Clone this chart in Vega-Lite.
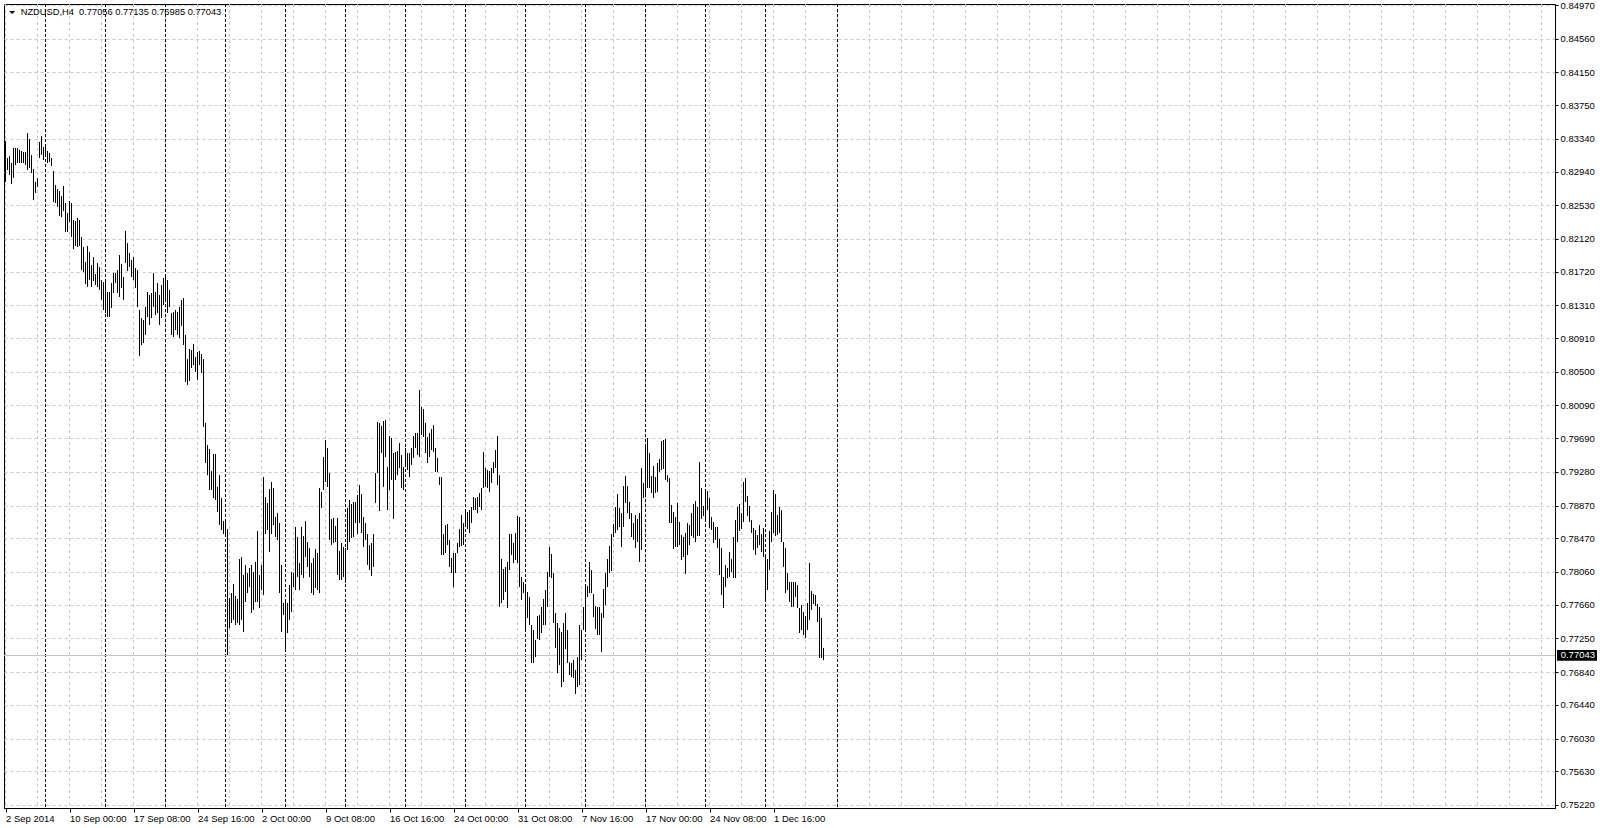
{
"$schema": "https://vega.github.io/schema/vega-lite/v6.json",
"width": 1551, "height": 804,
"autosize": {"type": "none"},
"padding": {"left": 4, "top": 4, "right": 45, "bottom": 20},
"background": "white",
"config": {"view": {"stroke": "black", "strokeWidth": 1}, "font": "Liberation Sans", "axis": {"labelOverlap": false}},
"datasets": {
"grid": [{"i":0},{"i":16},{"i":32},{"i":48},{"i":64},{"i":80},{"i":96},{"i":112},{"i":128},{"i":144},{"i":160},{"i":176},{"i":192},{"i":208},{"i":224},{"i":240},{"i":256},{"i":272},{"i":288},{"i":304},{"i":320},{"i":336},{"i":352},{"i":368},{"i":384},{"i":400},{"i":416},{"i":432},{"i":448},{"i":464},{"i":480},{"i":496},{"i":512},{"i":528},{"i":544},{"i":560},{"i":576},{"i":592},{"i":608},{"i":624},{"i":640},{"i":656},{"i":672},{"i":688},{"i":704},{"i":720},{"i":736},{"i":752},{"i":768}],
"sep": [{"i":20},{"i":50},{"i":80},{"i":110},{"i":140},{"i":170},{"i":200},{"i":230},{"i":260},{"i":290},{"i":320},{"i":350},{"i":380},{"i":416}],
"last": [{"price":0.77043,"label":"0.77043","title":"NZDUSD,H4\u00a0 0.77056 0.77135 0.76985 0.77043"}],
"bars": [
{"i":0,"h":0.83312,"l":0.82813},{"i":1,"h":0.83105,"l":0.82959},{"i":2,"h":0.8313,"l":0.82898},{"i":3,"h":0.83044,"l":0.82788},{"i":4,"h":0.83227,"l":0.82862},{"i":5,"h":0.83227,"l":0.8302},{"i":6,"h":0.83227,"l":0.83044},{"i":7,"h":0.83203,"l":0.83044},{"i":8,"h":0.83191,"l":0.83044},{"i":9,"h":0.83178,"l":0.83044},
{"i":10,"h":0.83178,"l":0.8302},{"i":11,"h":0.8341,"l":0.82959},{"i":12,"h":0.83337,"l":0.82983},{"i":13,"h":0.83142,"l":0.82922},{"i":14,"h":0.82971,"l":0.82593},{"i":15,"h":0.82813,"l":0.82679},{"i":16,"h":0.82862,"l":0.82752},{"i":17,"h":0.833,"l":0.83105},{"i":18,"h":0.83373,"l":0.83142},{"i":19,"h":0.83239,"l":0.83081},
{"i":20,"h":0.83264,"l":0.8313},{"i":21,"h":0.83191,"l":0.83044},{"i":22,"h":0.83166,"l":0.83057},{"i":23,"h":0.83105,"l":0.83008},{"i":24,"h":0.82947,"l":0.82569},{"i":25,"h":0.82776,"l":0.82557},{"i":26,"h":0.82728,"l":0.82508},{"i":27,"h":0.82703,"l":0.82398},{"i":28,"h":0.82642,"l":0.82386},{"i":29,"h":0.82764,"l":0.82459},
{"i":30,"h":0.82557,"l":0.82203},{"i":31,"h":0.82435,"l":0.82203},{"i":32,"h":0.82581,"l":0.82325},{"i":33,"h":0.82557,"l":0.82142},{"i":34,"h":0.8235,"l":0.81996},{"i":35,"h":0.82337,"l":0.82033},{"i":36,"h":0.82374,"l":0.8202},{"i":37,"h":0.8235,"l":0.82033},{"i":38,"h":0.82142,"l":0.8174},{"i":39,"h":0.8202,"l":0.81716},
{"i":40,"h":0.81838,"l":0.8157},{"i":41,"h":0.82033,"l":0.81533},{"i":42,"h":0.8196,"l":0.81618},{"i":43,"h":0.81801,"l":0.81533},{"i":44,"h":0.81899,"l":0.81606},{"i":45,"h":0.81691,"l":0.81557},{"i":46,"h":0.81825,"l":0.81533},{"i":47,"h":0.81777,"l":0.81497},{"i":48,"h":0.81618,"l":0.81375},{"i":49,"h":0.81594,"l":0.81253},
{"i":50,"h":0.81618,"l":0.81216},{"i":51,"h":0.81472,"l":0.81168},{"i":52,"h":0.81472,"l":0.81168},{"i":53,"h":0.81582,"l":0.81277},{"i":54,"h":0.81704,"l":0.8146},{"i":55,"h":0.81704,"l":0.81582},{"i":56,"h":0.8174,"l":0.8146},{"i":57,"h":0.81923,"l":0.81411},{"i":58,"h":0.81813,"l":0.81521},{"i":59,"h":0.81655,"l":0.81375},
{"i":60,"h":0.82216,"l":0.81825},{"i":61,"h":0.82069,"l":0.81728},{"i":62,"h":0.81948,"l":0.81777},{"i":63,"h":0.81862,"l":0.81655},{"i":64,"h":0.81899,"l":0.81618},{"i":65,"h":0.81764,"l":0.81521},{"i":66,"h":0.8174,"l":0.81289},{"i":67,"h":0.81253,"l":0.80692},{"i":68,"h":0.81155,"l":0.80826},{"i":69,"h":0.81131,"l":0.8085},
{"i":70,"h":0.81289,"l":0.80948},{"i":71,"h":0.81472,"l":0.81168},{"i":72,"h":0.81436,"l":0.8107},{"i":73,"h":0.8146,"l":0.81155},{"i":74,"h":0.81704,"l":0.81289},{"i":75,"h":0.81472,"l":0.81192},{"i":76,"h":0.81582,"l":0.81216},{"i":77,"h":0.81436,"l":0.8107},{"i":78,"h":0.81557,"l":0.81155},{"i":79,"h":0.81643,"l":0.81314},
{"i":80,"h":0.81655,"l":0.81375},{"i":81,"h":0.81618,"l":0.81216},{"i":82,"h":0.81497,"l":0.81289},{"i":83,"h":0.81216,"l":0.80948},{"i":84,"h":0.81228,"l":0.80924},{"i":85,"h":0.81253,"l":0.81009},{"i":86,"h":0.81228,"l":0.80948},{"i":87,"h":0.81289,"l":0.80912},{"i":88,"h":0.81375,"l":0.81058},{"i":89,"h":0.81399,"l":0.80826},
{"i":90,"h":0.80948,"l":0.80375},{"i":91,"h":0.80655,"l":0.80339},{"i":92,"h":0.80777,"l":0.80387},{"i":93,"h":0.80765,"l":0.80546},{"i":94,"h":0.80838,"l":0.80582},{"i":95,"h":0.8068,"l":0.80497},{"i":96,"h":0.80741,"l":0.804},{"i":97,"h":0.80753,"l":0.80582},{"i":98,"h":0.80716,"l":0.80485},{"i":99,"h":0.80655,"l":0.79827},
{"i":100,"h":0.79875,"l":0.79388},{"i":101,"h":0.79607,"l":0.7924},{"i":102,"h":0.79559,"l":0.79059},{"i":103,"h":0.7929,"l":0.79059},{"i":104,"h":0.79498,"l":0.78961},{"i":105,"h":0.79498,"l":0.78937},{"i":106,"h":0.79096,"l":0.78791},{"i":107,"h":0.7924,"l":0.78632},{"i":108,"h":0.78961,"l":0.78571},{"i":109,"h":0.78681,"l":0.78522},
{"i":110,"h":0.78669,"l":0.78522},{"i":111,"h":0.78583,"l":0.77048},{"i":112,"h":0.77743,"l":0.77377},{"i":113,"h":0.77803,"l":0.77438},{"i":114,"h":0.77913,"l":0.77474},{"i":115,"h":0.77767,"l":0.77413},{"i":116,"h":0.7773,"l":0.77438},{"i":117,"h":0.78218,"l":0.77413},{"i":118,"h":0.78243,"l":0.77474},{"i":119,"h":0.78023,"l":0.77328},
{"i":120,"h":0.78145,"l":0.77694},{"i":121,"h":0.78047,"l":0.77803},{"i":122,"h":0.78108,"l":0.77876},{"i":123,"h":0.78145,"l":0.7756},{"i":124,"h":0.7806,"l":0.77596},{"i":125,"h":0.78182,"l":0.77694},{"i":126,"h":0.78559,"l":0.77694},{"i":127,"h":0.78023,"l":0.77621},{"i":128,"h":0.78145,"l":0.7784},{"i":129,"h":0.79217,"l":0.77779},
{"i":130,"h":0.78973,"l":0.78522},{"i":131,"h":0.789,"l":0.78571},{"i":132,"h":0.79071,"l":0.78303},{"i":133,"h":0.79156,"l":0.78522},{"i":134,"h":0.79083,"l":0.78632},{"i":135,"h":0.7873,"l":0.78486},{"i":136,"h":0.78778,"l":0.7845},{"i":137,"h":0.78657,"l":0.77803},{"i":138,"h":0.78145,"l":0.77328},{"i":139,"h":0.77682,"l":0.77535},
{"i":140,"h":0.77694,"l":0.77109},{"i":141,"h":0.77682,"l":0.77316},{"i":142,"h":0.77901,"l":0.77474},{"i":143,"h":0.7806,"l":0.77572},{"i":144,"h":0.78047,"l":0.77876},{"i":145,"h":0.78608,"l":0.7784},{"i":146,"h":0.78486,"l":0.77999},{"i":147,"h":0.7817,"l":0.7784},{"i":148,"h":0.78608,"l":0.78023},{"i":149,"h":0.78498,"l":0.77986},
{"i":150,"h":0.78681,"l":0.78243},{"i":151,"h":0.78425,"l":0.78121},{"i":152,"h":0.78352,"l":0.77999},{"i":153,"h":0.7817,"l":0.77803},{"i":154,"h":0.7823,"l":0.77779},{"i":155,"h":0.7834,"l":0.77864},{"i":156,"h":0.78291,"l":0.7784},{"i":157,"h":0.79083,"l":0.77803},{"i":158,"h":0.79035,"l":0.7884},{"i":159,"h":0.79461,"l":0.79059},
{"i":160,"h":0.79668,"l":0.79156},{"i":161,"h":0.79571,"l":0.79096},{"i":162,"h":0.79266,"l":0.7845},{"i":163,"h":0.78705,"l":0.78389},{"i":164,"h":0.78718,"l":0.78413},{"i":165,"h":0.7862,"l":0.78425},{"i":166,"h":0.78718,"l":0.78023},{"i":167,"h":0.78315,"l":0.77962},{"i":168,"h":0.78413,"l":0.77962},{"i":169,"h":0.78364,"l":0.77999},
{"i":170,"h":0.78352,"l":0.77925},{"i":171,"h":0.7884,"l":0.78328},{"i":172,"h":0.78937,"l":0.78425},{"i":173,"h":0.78888,"l":0.78474},{"i":174,"h":0.78913,"l":0.78486},{"i":175,"h":0.78913,"l":0.78657},{"i":176,"h":0.78998,"l":0.78522},{"i":177,"h":0.7912,"l":0.78657},{"i":178,"h":0.7901,"l":0.78535},{"i":179,"h":0.7873,"l":0.78364},
{"i":180,"h":0.78657,"l":0.7845},{"i":181,"h":0.78522,"l":0.78145},{"i":182,"h":0.78389,"l":0.78084},{"i":183,"h":0.78413,"l":0.78011},{"i":184,"h":0.78522,"l":0.78121},{"i":185,"h":0.79266,"l":0.789},{"i":186,"h":0.79888,"l":0.79266},{"i":187,"h":0.79875,"l":0.78803},{"i":188,"h":0.79839,"l":0.7951},{"i":189,"h":0.799,"l":0.79096},
{"i":190,"h":0.79912,"l":0.79461},{"i":191,"h":0.79339,"l":0.78815},{"i":192,"h":0.79717,"l":0.79059},{"i":193,"h":0.79693,"l":0.79181},{"i":194,"h":0.7951,"l":0.78705},{"i":195,"h":0.79522,"l":0.79181},{"i":196,"h":0.79534,"l":0.7924},{"i":197,"h":0.79632,"l":0.79327},{"i":198,"h":0.79485,"l":0.79083},{"i":199,"h":0.79339,"l":0.79059},
{"i":200,"h":0.79571,"l":0.79339},{"i":201,"h":0.7951,"l":0.79303},{"i":202,"h":0.7951,"l":0.79217},{"i":203,"h":0.79571,"l":0.79364},{"i":204,"h":0.79717,"l":0.79449},{"i":205,"h":0.79754,"l":0.79571},{"i":206,"h":0.79754,"l":0.79485},{"i":207,"h":0.80278,"l":0.79461},{"i":208,"h":0.8007,"l":0.7973},{"i":209,"h":0.80046,"l":0.79705},
{"i":210,"h":0.79875,"l":0.7951},{"i":211,"h":0.79705,"l":0.79388},{"i":212,"h":0.79754,"l":0.79461},{"i":213,"h":0.79803,"l":0.79546},{"i":214,"h":0.79851,"l":0.79522},{"i":215,"h":0.79571,"l":0.79278},{"i":216,"h":0.79449,"l":0.79278},{"i":217,"h":0.79217,"l":0.7912},{"i":218,"h":0.79217,"l":0.78267},{"i":219,"h":0.78522,"l":0.78267},
{"i":220,"h":0.78632,"l":0.78291},{"i":221,"h":0.78644,"l":0.78389},{"i":222,"h":0.7845,"l":0.78121},{"i":223,"h":0.7823,"l":0.78047},{"i":224,"h":0.78291,"l":0.77876},{"i":225,"h":0.78291,"l":0.78047},{"i":226,"h":0.78413,"l":0.78291},{"i":227,"h":0.78583,"l":0.78364},{"i":228,"h":0.78754,"l":0.78376},{"i":229,"h":0.78657,"l":0.78389},
{"i":230,"h":0.78791,"l":0.78608},{"i":231,"h":0.78791,"l":0.78583},{"i":232,"h":0.78815,"l":0.78535},{"i":233,"h":0.78852,"l":0.78657},{"i":234,"h":0.78973,"l":0.78815},{"i":235,"h":0.78961,"l":0.78815},{"i":236,"h":0.78973,"l":0.78778},{"i":237,"h":0.79022,"l":0.78852},{"i":238,"h":0.79083,"l":0.78815},{"i":239,"h":0.79522,"l":0.79083},
{"i":240,"h":0.79327,"l":0.79096},{"i":241,"h":0.79303,"l":0.79083},{"i":242,"h":0.7929,"l":0.79035},{"i":243,"h":0.79327,"l":0.79144},{"i":244,"h":0.794,"l":0.79266},{"i":245,"h":0.79546,"l":0.79327},{"i":246,"h":0.79717,"l":0.7912},{"i":247,"h":0.7924,"l":0.77633},{"i":248,"h":0.78218,"l":0.77682},{"i":249,"h":0.78096,"l":0.77718},
{"i":250,"h":0.78121,"l":0.77816},{"i":251,"h":0.78182,"l":0.77621},{"i":252,"h":0.78522,"l":0.78084},{"i":253,"h":0.78522,"l":0.78267},{"i":254,"h":0.78413,"l":0.7817},{"i":255,"h":0.78535,"l":0.78206},{"i":256,"h":0.78742,"l":0.7817},{"i":257,"h":0.7873,"l":0.77876},{"i":258,"h":0.77999,"l":0.77718},{"i":259,"h":0.77937,"l":0.77803},
{"i":260,"h":0.77901,"l":0.77353},{"i":261,"h":0.77816,"l":0.77499},{"i":262,"h":0.77755,"l":0.77413},{"i":263,"h":0.77413,"l":0.7695},{"i":264,"h":0.77353,"l":0.7695},{"i":265,"h":0.77231,"l":0.77023},{"i":266,"h":0.77523,"l":0.77243},{"i":267,"h":0.77535,"l":0.77231},{"i":268,"h":0.77633,"l":0.77316},{"i":269,"h":0.7773,"l":0.77413},
{"i":270,"h":0.7784,"l":0.77413},{"i":271,"h":0.7806,"l":0.77633},{"i":272,"h":0.78364,"l":0.77999},{"i":273,"h":0.78279,"l":0.77986},{"i":274,"h":0.78047,"l":0.77438},{"i":275,"h":0.7756,"l":0.77133},{"i":276,"h":0.77438,"l":0.76828},{"i":277,"h":0.77377,"l":0.76926},{"i":278,"h":0.77328,"l":0.76658},{"i":279,"h":0.77438,"l":0.76719},
{"i":280,"h":0.7756,"l":0.77121},{"i":281,"h":0.77353,"l":0.7695},{"i":282,"h":0.76962,"l":0.76804},{"i":283,"h":0.7695,"l":0.7678},{"i":284,"h":0.76987,"l":0.76768},{"i":285,"h":0.76865,"l":0.76573},{"i":286,"h":0.77023,"l":0.76658},{"i":287,"h":0.77413,"l":0.76682},{"i":288,"h":0.77353,"l":0.76987},{"i":289,"h":0.77633,"l":0.77353},
{"i":290,"h":0.77876,"l":0.77328},{"i":291,"h":0.77889,"l":0.77755},{"i":292,"h":0.78182,"l":0.77803},{"i":293,"h":0.78084,"l":0.77803},{"i":294,"h":0.77791,"l":0.77511},{"i":295,"h":0.77645,"l":0.77365},{"i":296,"h":0.77633,"l":0.77292},{"i":297,"h":0.77633,"l":0.77292},{"i":298,"h":0.7756,"l":0.77084},{"i":299,"h":0.77852,"l":0.77499},
{"i":300,"h":0.78047,"l":0.77657},{"i":301,"h":0.78218,"l":0.77876},{"i":302,"h":0.78376,"l":0.78047},{"i":303,"h":0.78522,"l":0.78072},{"i":304,"h":0.78644,"l":0.78486},{"i":305,"h":0.78852,"l":0.78535},{"i":306,"h":0.7901,"l":0.78571},{"i":307,"h":0.7884,"l":0.78608},{"i":308,"h":0.78778,"l":0.78364},{"i":309,"h":0.79108,"l":0.78608},
{"i":310,"h":0.79229,"l":0.789},{"i":311,"h":0.79108,"l":0.78778},{"i":312,"h":0.78913,"l":0.78705},{"i":313,"h":0.78778,"l":0.78486},{"i":314,"h":0.78657,"l":0.7845},{"i":315,"h":0.78754,"l":0.78352},{"i":316,"h":0.78705,"l":0.78425},{"i":317,"h":0.78778,"l":0.78182},{"i":318,"h":0.79327,"l":0.78328},{"i":319,"h":0.79144,"l":0.78961},
{"i":320,"h":0.79583,"l":0.78998},{"i":321,"h":0.79693,"l":0.79083},{"i":322,"h":0.7951,"l":0.79083},{"i":323,"h":0.79229,"l":0.79022},{"i":324,"h":0.79351,"l":0.78961},{"i":325,"h":0.79217,"l":0.79022},{"i":326,"h":0.79388,"l":0.79035},{"i":327,"h":0.79437,"l":0.79278},{"i":328,"h":0.79656,"l":0.79303},{"i":329,"h":0.79668,"l":0.79315},
{"i":330,"h":0.79681,"l":0.79181},{"i":331,"h":0.7924,"l":0.79156},{"i":332,"h":0.79205,"l":0.78657},{"i":333,"h":0.78876,"l":0.78657},{"i":334,"h":0.78791,"l":0.7834},{"i":335,"h":0.7873,"l":0.78364},{"i":336,"h":0.789,"l":0.78364},{"i":337,"h":0.78669,"l":0.78389},{"i":338,"h":0.7851,"l":0.78206},{"i":339,"h":0.78486,"l":0.78243},
{"i":340,"h":0.78535,"l":0.78035},{"i":341,"h":0.78657,"l":0.78267},{"i":342,"h":0.78632,"l":0.78389},{"i":343,"h":0.78778,"l":0.78498},{"i":344,"h":0.78888,"l":0.78474},{"i":345,"h":0.78925,"l":0.78425},{"i":346,"h":0.78852,"l":0.78498},{"i":347,"h":0.794,"l":0.78498},{"i":348,"h":0.79083,"l":0.78705},{"i":349,"h":0.78864,"l":0.78742},
{"i":350,"h":0.79059,"l":0.78693},{"i":351,"h":0.79047,"l":0.78815},{"i":352,"h":0.78961,"l":0.78596},{"i":353,"h":0.7873,"l":0.78571},{"i":354,"h":0.78669,"l":0.78413},{"i":355,"h":0.78608,"l":0.7845},{"i":356,"h":0.78608,"l":0.78352},{"i":357,"h":0.78462,"l":0.78023},{"i":358,"h":0.78352,"l":0.77779},{"i":359,"h":0.77999,"l":0.77621},
{"i":360,"h":0.78145,"l":0.77876},{"i":361,"h":0.78108,"l":0.77986},{"i":362,"h":0.78303,"l":0.77999},{"i":363,"h":0.78218,"l":0.7806},{"i":364,"h":0.78486,"l":0.77986},{"i":365,"h":0.78693,"l":0.77986},{"i":366,"h":0.78852,"l":0.78425},{"i":367,"h":0.78888,"l":0.78559},{"i":368,"h":0.78778,"l":0.78583},{"i":369,"h":0.79156,"l":0.78669},
{"i":370,"h":0.79205,"l":0.78913},{"i":371,"h":0.78986,"l":0.78742},{"i":372,"h":0.78864,"l":0.78669},{"i":373,"h":0.78693,"l":0.78535},{"i":374,"h":0.78596,"l":0.78328},{"i":375,"h":0.78571,"l":0.78267},{"i":376,"h":0.7851,"l":0.78352},{"i":377,"h":0.78632,"l":0.78389},{"i":378,"h":0.78522,"l":0.78303},{"i":379,"h":0.78596,"l":0.78243},
{"i":380,"h":0.78243,"l":0.77718},{"i":381,"h":0.78218,"l":0.7784},{"i":382,"h":0.78559,"l":0.78084},{"i":383,"h":0.78791,"l":0.78425},{"i":384,"h":0.79059,"l":0.78535},{"i":385,"h":0.7901,"l":0.78498},{"i":386,"h":0.78754,"l":0.7851},{"i":387,"h":0.78852,"l":0.78535},{"i":388,"h":0.78815,"l":0.78425},{"i":389,"h":0.78425,"l":0.78121},
{"i":390,"h":0.78352,"l":0.77803},{"i":391,"h":0.78047,"l":0.7784},{"i":392,"h":0.77937,"l":0.77694},{"i":393,"h":0.77937,"l":0.77633},{"i":394,"h":0.77937,"l":0.77633},{"i":395,"h":0.77937,"l":0.77755},{"i":396,"h":0.77901,"l":0.77621},{"i":397,"h":0.77621,"l":0.77316},{"i":398,"h":0.77657,"l":0.77353},{"i":399,"h":0.77572,"l":0.77292},
{"i":400,"h":0.77523,"l":0.77255},{"i":401,"h":0.77682,"l":0.77353},{"i":402,"h":0.7817,"l":0.77474},{"i":403,"h":0.77828,"l":0.77596},{"i":404,"h":0.77791,"l":0.7767},{"i":405,"h":0.77779,"l":0.77645},{"i":406,"h":0.7767,"l":0.7745},{"i":407,"h":0.77633,"l":0.77011},{"i":408,"h":0.77499,"l":0.77011},{"i":409,"h":0.77135,"l":0.76985}
]
},
"layer": [
{"data": {"name": "grid"}, "mark": {"type": "rule", "color": "#c8c8c8", "strokeDash": [3, 3], "strokeWidth": 1},
 "encoding": {"x": {"field": "i", "type": "quantitative", "title": null}}},
{"data": {"name": "sep"}, "mark": {"type": "rule", "color": "#000000", "strokeDash": [3, 2], "strokeWidth": 1},
 "encoding": {"x": {"field": "i", "type": "quantitative", "title": null}}},
{"data": {"name": "last"}, "mark": {"type": "rule", "color": "#c0c0c0", "strokeWidth": 1},
 "encoding": {"y": {"field": "price", "type": "quantitative", "title": null}}},
{"data": {"name": "bars"}, "mark": {"type": "rule", "color": "#000000", "strokeWidth": 1},
 "encoding": {
  "x": {"field": "i", "type": "quantitative", "title": null,
   "scale": {"domain": [-0.75, 774.75], "nice": false, "zero": false},
   "axis": {"values": [0, 32, 64, 96, 128, 160, 192, 224, 256, 288, 320, 352, 384], "tickCount": 60,
    "labelExpr": "['2 Sep 2014','10 Sep 00:00','17 Sep 08:00','24 Sep 16:00','2 Oct 00:00','9 Oct 08:00','16 Oct 16:00','24 Oct 00:00','31 Oct 08:00','7 Nov 16:00','17 Nov 00:00','24 Nov 08:00','1 Dec 16:00'][round(datum.value/32)]",
    "grid": false, "domainColor": "#000000", "tickColor": "#000000", "tickSize": 4,
    "labelAlign": "left", "labelBaseline": "top", "labelPadding": 1, "labelFontSize": 9.5, "labelColor": "#000000",
    "labelFlush": false, "labelOverlap": false, "labelBound": false}},
  "y": {"field": "l", "type": "quantitative", "title": null,
   "scale": {"domain": [0.751833, 0.849822], "nice": false, "zero": false},
   "axis": {"orient": "right", "tickCount": 40, "values": [0.75220, 0.75630, 0.76030, 0.76440, 0.76840, 0.77250, 0.77660, 0.78060, 0.78470, 0.78870, 0.79280, 0.79690, 0.80090, 0.80500, 0.80910, 0.81310, 0.81720, 0.82120, 0.82530, 0.82940, 0.83340, 0.83750, 0.84150, 0.84560, 0.84970],
    "format": ".5f", "grid": true, "gridColor": "#c8c8c8", "gridDash": [3, 3], "gridWidth": 1,
    "domainColor": "#000000", "tickColor": "#000000", "tickSize": 3, "labelPadding": 2,
    "labelFontSize": 9.5, "labelColor": "#000000", "labelFlush": false, "labelOverlap": false, "labelBound": false, "labelBaseline": "middle"}},
  "y2": {"field": "h"}
 }},
{"data": {"name": "last"}, "mark": {"type": "text", "align": "left", "baseline": "middle", "fontSize": 9.3, "color": "#000000"},
 "encoding": {"x": {"datum": 7.6, "type": "quantitative", "title": null}, "y": {"datum": 0.84879, "type": "quantitative", "title": null}, "text": {"field": "title"}}},
{"data": {"name": "last"}, "mark": {"type": "point", "shape": "M-1,-0.5L1,-0.5L0,0.5Z", "size": 36, "filled": true, "color": "#000000", "opacity": 1},
 "encoding": {"x": {"datum": 3.35, "type": "quantitative", "title": null}, "y": {"datum": 0.84879, "type": "quantitative", "title": null}}},
{"data": {"name": "last"}, "mark": {"type": "rect", "color": "#000000"},
 "encoding": {"x": {"datum": 775.75, "type": "quantitative", "title": null}, "x2": {"datum": 795.75}, "y": {"datum": 0.77109, "type": "quantitative", "title": null}, "y2": {"datum": 0.76977}}},
{"data": {"name": "last"}, "mark": {"type": "text", "align": "left", "baseline": "middle", "fontSize": 9.5, "color": "#ffffff"},
 "encoding": {"x": {"datum": 777.6, "type": "quantitative", "title": null}, "y": {"field": "price", "type": "quantitative", "title": null}, "text": {"field": "label"}}}
]
}
